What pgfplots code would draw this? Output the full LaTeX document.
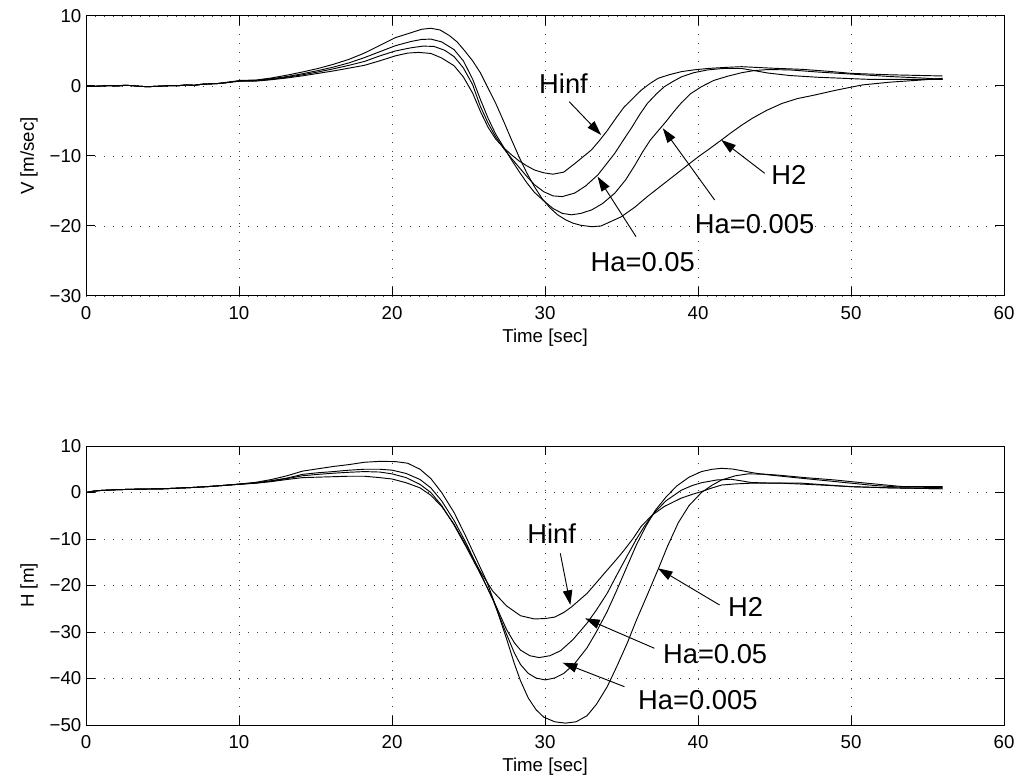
\documentclass[border=0pt]{standalone}
\usepackage{fontspec}
\setmainfont{Liberation Sans}
\usepackage{pgfplots}
\pgfplotsset{compat=1.18}
\usetikzlibrary{arrows.meta}

\pgfplotsset{
  mlab/.style={
    scale only axis, width=688.5pt, height=210pt,
    xmin=0, xmax=60, xtick={0,10,...,60},
    x filter/.expression={x*1.0107},
    grid=major,
    major grid style={black!75, line width=0.6pt, dash pattern=on 0.7pt off 6.05pt},
    tick align=inside, major tick length=7pt,
    tick style={black, line width=0.75pt},
    axis line style={black, line width=0.75pt},
    tick label style={font=\fontsize{14}{16}\selectfont},
    xticklabel style={yshift=-4.5pt},
    label style={font=\fontsize{14}{16}\selectfont},
    ylabel style={yshift=2pt},
    /pgf/number format/assume math mode=true,
    no markers,
    every axis plot post/.append style={black, line width=0.7pt, mark=none},
    xlabel={Time [sec]},
  },
}
\tikzset{
  ann/.style={anchor=base, inner sep=0pt, font=\fontsize{20.5}{24}\selectfont},
  arr/.style={line width=0.7pt, -{Triangle[length=11pt,width=7pt]}},
}

\begin{document}
\begin{tikzpicture}
% ---------------- top axis ----------------
\begin{axis}[mlab, at={(64.5pt,363.75pt)}, anchor=south west,
  ymin=-30, ymax=10, ytick={-30,-20,...,10},
  yticklabels={−30,−20,−10,0,10},
  ylabel={V [m/sec]}]
% H2
\addplot coordinates {(0,0) (0.5,-0.05) (1,0.0) (1.5,0.05) (2,0.0) (2.5,0.1) (3,0.05) (3.5,-0.05) (4,-0.1) (4.5,-0.05) (5,0.0) (5.5,0.05) (6,0.05) (6.5,0.15) (7,0.1) (7.5,0.25) (8,0.3) (8.5,0.35) (9,0.5) (9.5,0.65) (10,0.8)
(11,0.85) (12,1.15) (13,1.55) (14,2.0) (15,2.5) (16,3.1) (17,3.8) (18,4.7) (19,5.8) (20,6.9) (21,7.6) (21.7,8.1) (22.3,8.25) (22.9,8.0) (23.5,7.2) (24,6.3) (24.5,5.0) (25,3.6) (25.5,1.9) (26,-0.3) (26.5,-2.5) (27,-5.0) (27.5,-7.6) (28,-10.1) (28.5,-12.4) (29,-14.4) (29.5,-16.1) (30,-17.4) (30.5,-18.4) (31,-19.1) (31.5,-19.6) (32,-19.9) (32.7,-20.1) (33.3,-20.0) (34.0,-19.3) (34.6,-18.7) (35.5,-17.3) (36.3,-15.8) (37.4,-13.9) (38.5,-12.0) (39.6,-10.1) (40.3,-9.0) (41.1,-7.7) (41.7,-6.7) (42.4,-5.6) (43.1,-4.6) (44.0,-3.5) (45.0,-2.5) (46.0,-1.8) (47.1,-1.3) (48.5,-0.6) (50.2,0.15) (52,0.55) (54,0.85) (55.4,1.1)};
% Ha=0.005
\addplot coordinates {(0,0) (0.5,-0.05) (1,0.0) (1.5,0.05) (2,0.0) (2.5,0.1) (3,0.05) (3.5,-0.05) (4,-0.1) (4.5,-0.05) (5,0.0) (5.5,0.05) (6,0.05) (6.5,0.15) (7,0.1) (7.5,0.25) (8,0.3) (8.5,0.35) (9,0.45) (9.5,0.6) (10,0.75)
(11,0.8) (12,1.05) (13,1.35) (14,1.75) (15,2.2) (16,2.7) (17,3.3) (18,4.05) (19,4.9) (20,5.75) (21,6.35) (21.7,6.65) (22.3,6.7) (23,6.3) (23.8,5.2) (24.4,3.6) (25,1.0) (25.5,-1.9) (26,-4.6) (26.5,-6.9) (27,-8.7) (27.5,-10.5) (28,-12.2) (28.5,-13.8) (29,-15.2) (29.6,-16.4) (30.2,-17.5) (30.8,-18.2) (31.4,-18.4) (32,-18.2) (32.7,-17.7) (33.4,-16.8) (34.2,-15.3) (34.9,-13.4) (35.5,-11.3) (36.0,-9.4) (36.5,-7.7) (37.0,-6.4) (37.5,-5.1) (38.0,-3.7) (38.5,-2.4) (39.1,-1.1) (39.8,-0.1) (40.6,0.8) (41.5,1.4) (42.4,1.9) (43.2,2.2) (44.1,2.35) (45.5,2.3) (47.3,2.0) (49.5,1.7) (52,1.35) (54,1.15) (55.4,0.95)};
% Ha=0.05
\addplot coordinates {(0,0) (0.5,-0.05) (1,0.0) (1.5,0.05) (2,0.0) (2.5,0.1) (3,0.05) (3.5,-0.05) (4,-0.1) (4.5,-0.05) (5,0.0) (5.5,0.05) (6,0.05) (6.5,0.15) (7,0.1) (7.5,0.25) (8,0.3) (8.5,0.35) (9,0.45) (9.5,0.6) (10,0.7)
(11,0.75) (12,0.95) (13,1.25) (14,1.6) (15,2.0) (16,2.45) (17,2.95) (18,3.5) (19,4.3) (20,5.0) (21,5.45) (21.8,5.7) (22.5,5.65) (23.2,5.1) (23.8,4.2) (24.4,2.6) (25,0.2) (25.5,-2.9) (26,-5.3) (26.5,-7.3) (27,-8.9) (27.5,-10.3) (28,-11.6) (28.5,-12.9) (29,-14.1) (29.6,-15.1) (30.2,-15.7) (30.8,-15.8) (31.6,-15.3) (32.3,-14.3) (33.1,-12.7) (33.6,-11.3) (34.2,-9.6) (34.7,-7.9) (35.3,-5.9) (35.8,-4.1) (36.3,-2.5) (36.9,-1.1) (37.4,-0.1) (38,0.7) (38.5,1.3) (39.3,1.9) (40.2,2.3) (41.2,2.5) (42.4,2.5) (43.2,2.2) (44.1,1.85) (45.5,1.5) (47.3,1.25) (50.6,0.95) (53,0.95) (55.4,0.95)};
% Hinf
\addplot coordinates {(0,0) (0.5,-0.05) (1,0.0) (1.5,0.05) (2,0.0) (2.5,0.1) (3,0.05) (3.5,-0.05) (4,-0.1) (4.5,-0.05) (5,0.0) (5.5,0.05) (6,0.05) (6.5,0.15) (7,0.1) (7.5,0.25) (8,0.3) (8.5,0.35) (9,0.45) (9.5,0.6) (10,0.7)
(11,0.7) (12,0.9) (13,1.15) (14,1.45) (15,1.8) (16,2.15) (17,2.55) (18,2.95) (19,3.6) (20,4.3) (20.8,4.7) (21.5,4.8) (22.3,4.65) (23,4.0) (23.8,2.9) (24.4,1.3) (25,-1.0) (25.5,-3.6) (26,-5.9) (26.5,-7.6) (27,-8.8) (27.5,-9.8) (28,-10.7) (28.5,-11.4) (29,-12.0) (29.6,-12.4) (30.2,-12.6) (30.9,-12.3) (31.6,-11.1) (32.1,-10.2) (32.7,-9.1) (33.2,-7.8) (33.7,-6.4) (34.3,-4.5) (34.8,-3.0) (35.4,-1.7) (35.9,-0.6) (36.5,0.4) (37,1.1) (37.7,1.6) (38.5,2.05) (39.3,2.3) (40.2,2.5) (41.3,2.65) (42.4,2.76) (44.3,2.55) (46.3,2.38) (48,2.1) (49.5,1.8) (52,1.6) (54,1.5) (55.4,1.43)};
% annotations
\node[ann] at (axis cs:31.21,-1.04) {Hinf};
\draw[arr] (axis cs:31.58,-2.24) -- (axis cs:33.67,-7.0);
\node[ann] at (axis cs:36.39,-26.5) {Ha=0.05};
\draw[arr] (axis cs:35.95,-21.53) -- (axis cs:33.44,-12.96);
\node[ann] at (axis cs:43.70,-21.05) {Ha=0.005};
\draw[arr] (axis cs:41.09,-16.29) -- (axis cs:37.70,-6.04);
\node[ann] at (axis cs:45.94,-14.14) {H2};
\draw[arr] (axis cs:44.36,-12.47) -- (axis cs:41.52,-7.71);
\end{axis}

% ---------------- bottom axis ----------------
\begin{axis}[mlab, at={(64.5pt,42pt)}, anchor=south west,
  height=209.25pt,
  ymin=-50, ymax=10, ytick={-50,-40,...,10},
  yticklabels={−50,−40,−30,−20,−10,0,10},
  ylabel={H [m]}]
% H2
\addplot coordinates {(0,0) (0.5,0.3) (1,0.45) (2,0.6) (3,0.7) (4,0.75) (5,0.8) (6,0.95) (7,1.1) (8,1.3) (9,1.55) (10,1.85)
(11,2.2) (12,2.8) (13,3.6) (14,4.6) (15,5.1) (16,5.6) (17,6.0) (18,6.5) (19,6.7) (20,6.65) (20.8,6.3) (21.6,5.0) (22.3,3.0) (23,0.0) (23.8,-4.3) (24.5,-9.0) (25.2,-14.0) (25.9,-19.0) (26.5,-24.5) (27.2,-31.5) (27.7,-36.8) (28.1,-40.5) (28.6,-44.2) (29.1,-46.7) (29.6,-48.3) (30.3,-49.3) (31.0,-49.6) (31.7,-49.3) (32.4,-48.0) (33.0,-45.6) (33.7,-41.8) (34.3,-37.6) (35.0,-32.4) (35.6,-27.4) (36.3,-22.0) (37.0,-16.5) (37.6,-11.6) (38.3,-6.5) (39.0,-2.8) (39.8,0.0) (40.5,1.6) (41.1,2.7) (42.0,3.6) (42.8,4.0) (43.8,3.95) (44.7,3.76) (46.5,3.2) (48.4,2.7) (50.5,2.0) (52.7,1.3) (54.5,1.25) (55.4,1.25)};
% Ha=0.005
\addplot coordinates {(0,0) (0.5,0.3) (1,0.45) (2,0.6) (3,0.7) (4,0.75) (5,0.8) (6,0.95) (7,1.1) (8,1.3) (9,1.55) (10,1.8)
(11,2.1) (12,2.55) (13,3.1) (14,3.9) (15,4.25) (16,4.5) (17,4.8) (18,5.0) (19,5.0) (19.8,4.8) (20.7,4.1) (21.6,2.8) (22.3,1.0) (23,-1.8) (23.8,-6.0) (24.6,-11.0) (25.5,-17.3) (26.3,-23.0) (27.2,-30.5) (27.7,-34.5) (28.1,-37.0) (28.6,-38.9) (29.1,-39.9) (29.7,-40.3) (30.3,-39.9) (30.9,-38.9) (31.6,-36.8) (32.4,-33.4) (33.0,-30.0) (33.7,-25.6) (34.3,-21.2) (35.0,-15.8) (35.6,-11.2) (36.2,-7.3) (36.8,-3.9) (37.5,-1.0) (38.2,1.4) (39.0,3.3) (39.8,4.5) (40.5,5.0) (41.1,5.2) (41.8,5.05) (42.4,4.7) (43.2,4.2) (44.1,3.8) (46.3,3.05) (48,2.5) (49.5,2.0) (51,1.5) (52.7,1.15) (55.4,1.1)};
% Ha=0.05
\addplot coordinates {(0,0) (0.5,0.3) (1,0.45) (2,0.6) (3,0.7) (4,0.75) (5,0.8) (6,0.95) (7,1.1) (8,1.3) (9,1.55) (10,1.8)
(11,2.05) (12,2.45) (13,3.0) (14,3.6) (15,3.9) (16,4.15) (17,4.35) (18,4.5) (19,4.4) (19.8,4.0) (20.7,3.2) (21.6,1.75) (22.3,0.0) (23,-2.8) (23.8,-7.0) (24.6,-11.8) (25.5,-17.5) (26.3,-22.8) (27.2,-29.5) (27.7,-32.3) (28.1,-33.9) (28.7,-35.1) (29.3,-35.5) (30.0,-35.1) (30.7,-34.0) (31.5,-31.6) (32.4,-28.1) (33.0,-25.3) (33.7,-21.7) (34.3,-17.9) (35.0,-13.6) (35.6,-10.0) (36.1,-7.3) (36.8,-4.2) (37.5,-1.8) (38.5,0.5) (39.2,1.5) (39.8,2.1) (40.8,2.7) (41.7,2.85) (42.4,2.5) (43.0,2.15) (44.5,2.0) (46.3,2.0) (48,1.6) (49.5,1.25) (52,1.0) (55.4,0.8)};
% Hinf
\addplot coordinates {(0,0) (0.5,0.3) (1,0.45) (2,0.6) (3,0.7) (4,0.75) (5,0.8) (6,0.95) (7,1.1) (8,1.3) (9,1.55) (10,1.8)
(11,2.0) (12,2.35) (13,2.8) (14,3.2) (15,3.3) (16,3.4) (17,3.5) (18,3.5) (19,3.2) (19.8,2.9) (20.7,2.1) (21.6,1.0) (22.3,-0.6) (23,-3.0) (23.8,-6.8) (24.6,-11.5) (25.5,-17.0) (26.3,-21.2) (27.2,-24.4) (28.1,-26.5) (29.0,-27.2) (29.7,-27.1) (30.3,-26.8) (30.9,-25.8) (31.4,-24.6) (32.4,-21.7) (33.0,-19.4) (33.7,-16.7) (34.3,-14.4) (34.8,-12.4) (35.4,-9.8) (35.9,-7.3) (36.6,-4.9) (37.4,-3.0) (38.5,-1.2) (39.2,-0.4) (39.8,0.2) (40.5,1.0) (41.1,1.6) (42,1.85) (43,2.0) (45,2.0) (47,1.7) (49.5,1.25) (52,1.0) (55.4,0.8)};
% annotations
\node[ann] at (axis cs:30.44,-10.93) {Hinf};
\draw[arr] (axis cs:31.00,-13.08) -- (axis cs:31.66,-24.19);
\node[ann] at (axis cs:43.11,-26.7) {H2};
\draw[arr] (axis cs:41.41,-24.19) -- (axis cs:37.38,-16.3);
\node[ann] at (axis cs:41.12,-36.74) {Ha=0.05};
\draw[arr] (axis cs:37.15,-33.5) -- (axis cs:32.62,-27.06);
\node[ann] at (axis cs:39.99,-46.77) {Ha=0.005};
\draw[arr] (axis cs:35.19,-41.76) -- (axis cs:31.15,-36.6);
\end{axis}
\pgfresetboundingbox
\useasboundingbox (0,0) rectangle (764.25pt,585.75pt);
\end{tikzpicture}
\end{document}
